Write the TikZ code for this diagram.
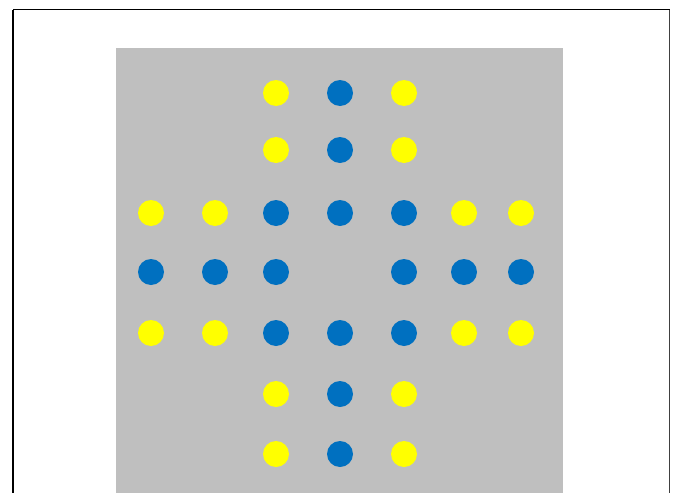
\documentclass[tikz,border=0pt]{standalone}
\definecolor{boardgray}{HTML}{BFBFBF}
\definecolor{pegblue}{HTML}{0070C0}
\definecolor{pegyellow}{HTML}{FFFF00}
\tikzset{
  peg/.style={circle, inner sep=0pt, minimum size=26pt},
  yp/.style={peg, fill=pegyellow},
  bp/.style={peg, fill=pegblue},
}
\begin{document}
\begin{tikzpicture}[x=1pt,y=-1pt]
\useasboundingbox (0,0) rectangle (673,493);
\fill[white] (0,0) rectangle (673,493);
\draw[line width=1.3pt] (13,9.5) -- (669.5,9.5);
\draw[line width=1.3pt] (13,9.5) -- (13,500);
\draw[line width=1.6pt, black!75] (669.5,9.5) -- (669.5,500);
\fill[boardgray] (116,48) rectangle (563,500);
% rows
\node[yp] (r1a) at (276,93) {};
\node[bp] (r1b) at (340,93) {};
\node[yp] (r1c) at (404,93) {};
\node[yp] (r2a) at (276,150) {};
\node[bp] (r2b) at (340,150) {};
\node[yp] (r2c) at (404,150) {};
\node[yp] (r3a) at (151,213) {};
\node[yp] (r3b) at (215,213) {};
\node[bp] (r3c) at (276,213) {};
\node[bp] (r3d) at (340,213) {};
\node[bp] (r3e) at (404,213) {};
\node[yp] (r3f) at (464,213) {};
\node[yp] (r3g) at (521,213) {};
\node[bp] (r4a) at (151,272) {};
\node[bp] (r4b) at (215,272) {};
\node[bp] (r4c) at (276,272) {};
\node[bp] (r4e) at (404,272) {};
\node[bp] (r4f) at (464,272) {};
\node[bp] (r4g) at (521,272) {};
\node[yp] (r5a) at (151,333) {};
\node[yp] (r5b) at (215,333) {};
\node[bp] (r5c) at (276,333) {};
\node[bp] (r5d) at (340,333) {};
\node[bp] (r5e) at (404,333) {};
\node[yp] (r5f) at (464,333) {};
\node[yp] (r5g) at (521,333) {};
\node[yp] (r6a) at (276,394) {};
\node[bp] (r6b) at (340,394) {};
\node[yp] (r6c) at (404,394) {};
\node[yp] (r7a) at (276,454) {};
\node[bp] (r7b) at (340,454) {};
\node[yp] (r7c) at (404,454) {};
\end{tikzpicture}
\end{document}
